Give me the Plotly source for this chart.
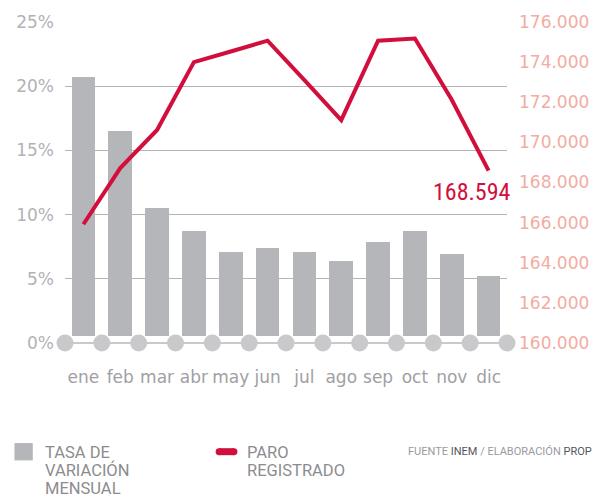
import plotly.graph_objects as go

# ---------------- data ----------------
meses = ["ene", "feb", "mar", "abr", "may", "jun", "jul", "ago", "sep", "oct", "nov", "dic"]
tasa_variacion = [20.7, 16.5, 10.5, 8.75, 7.1, 7.4, 7.1, 6.4, 7.9, 8.75, 6.9, 5.25]
paro_registrado = [165920, 168720, 170620, 174000, 174530, 175070, 173100, 171110, 175070, 175180, 172120, 168594]
tasa_ticks = [0, 5, 10, 15, 20, 25]
paro_ticks = [160000, 162000, 164000, 166000, 168000, 170000, 172000, 174000, 176000]

# ---------------- styling ----------------
W, H = 601, 497
ML, MR, MT, MB = 65, 90, 19, 154
PW, PH = W - ML - MR, H - MT - MB
BAR_COLOR = "#b5b6ba"
LINE_COLOR = "#d20f3c"
DOT_COLOR = "#c9c9cb"
GRID_COLOR = "#b4b4b4"
LEFT_TICK_COLOR = "#b2b2b6"
RIGHT_TICK_COLOR = "#f2aca2"
MONTH_COLOR = "#a0a0a4"
LEGEND_COLOR = "#8c8c90"
BAR_GAP = 0.55  # small gap between bars and the base line


def px(x):
    return (x - ML) / PW


def py(y):
    return (MT + PH - y) / PH


def fmt_es(v):
    return f"{v:,.0f}".replace(",", ".")


idx = list(range(len(meses)))

fig = go.Figure()

# bars (left axis)
fig.add_trace(go.Bar(
    x=idx, y=[v - BAR_GAP for v in tasa_variacion], base=BAR_GAP,
    width=0.64, marker=dict(color=BAR_COLOR, line=dict(width=0)),
    yaxis="y", showlegend=False, hoverinfo="skip",
))

# dots on the base line at category boundaries
fig.add_trace(go.Scatter(
    x=[i - 0.5 for i in range(len(meses) + 1)], y=[0] * (len(meses) + 1),
    mode="markers", marker=dict(size=17, color=DOT_COLOR, line=dict(width=0)),
    cliponaxis=False, yaxis="y", showlegend=False, hoverinfo="skip",
))

# line (right axis)
fig.add_trace(go.Scatter(
    x=idx, y=paro_registrado, mode="lines",
    line=dict(color=LINE_COLOR, width=4), yaxis="y2",
    showlegend=False, hoverinfo="skip", cliponaxis=False,
))

tick_font = dict(family="DejaVu Sans", size=17)

fig.update_layout(
    width=W, height=H, autosize=False,
    margin=dict(l=ML, r=MR, t=MT, b=MB, pad=0),
    paper_bgcolor="white", plot_bgcolor="white",
    separators=",.",
    bargap=0,
    xaxis=dict(
        range=[-0.5, len(meses) - 0.5], tickmode="array", tickvals=idx, ticktext=meses,
        showgrid=False, zeroline=False, showline=False, ticks="",
        tickfont=dict(tick_font, color=MONTH_COLOR), ticklabelstandoff=22,
    ),
    yaxis=dict(
        range=[0, 25], tickmode="array", tickvals=tasa_ticks,
        ticktext=[f"{t}%" for t in tasa_ticks],
        showgrid=True, gridcolor=GRID_COLOR, gridwidth=1,
        zeroline=True, zerolinecolor=DOT_COLOR, zerolinewidth=2,
        showline=False, ticks="", ticklabelstandoff=10,
        tickfont=dict(tick_font, color=LEFT_TICK_COLOR),
    ),
    yaxis2=dict(
        range=[paro_ticks[0], paro_ticks[-1]], overlaying="y", side="right",
        tickmode="array", tickvals=paro_ticks, ticktext=[fmt_es(t) for t in paro_ticks],
        showgrid=False, zeroline=False, showline=False, ticks="", ticklabelstandoff=11,
        tickfont=dict(tick_font, color=RIGHT_TICK_COLOR),
    ),
)

# last-value annotation
fig.add_annotation(
    x=idx[-1], y=paro_registrado[-1], xref="x", yref="y2",
    text=fmt_es(paro_registrado[-1]), showarrow=False,
    xanchor="right", yanchor="middle", xshift=24, yshift=-21,
    font=dict(family="Liberation Sans Narrow, Roboto Condensed, Arial Narrow", size=24, color=LINE_COLOR),
)

# ---------------- legend (manual) ----------------
fig.add_shape(type="rect", xref="paper", yref="paper",
              x0=px(14), x1=px(32.5), y0=py(461.5), y1=py(444),
              fillcolor=BAR_COLOR, line=dict(width=0), layer="above")

pill_y = 452.7
fig.add_shape(type="line", xref="paper", yref="paper",
              x0=px(220.5), x1=px(235.5), y0=py(pill_y), y1=py(pill_y),
              line=dict(color=LINE_COLOR, width=7), layer="above")
for cx in (220.5, 235.5):
    fig.add_shape(type="circle", xref="paper", yref="paper",
                  x0=px(cx - 3.5), x1=px(cx + 3.5), y0=py(pill_y + 3.5), y1=py(pill_y - 3.5),
                  fillcolor=LINE_COLOR, line=dict(width=0), layer="above")

legend_font = dict(family="Roboto", size=16.5, color=LEGEND_COLOR)
for i, t in enumerate(["TASA DE", "VARIACIÓN", "MENSUAL"]):
    fig.add_annotation(x=px(43), y=py(453.5 + 18 * i), xref="paper", yref="paper",
                       text=t, showarrow=False, xanchor="left", yanchor="middle",
                       font=legend_font)
for i, t in enumerate(["PARO", "REGISTRADO"]):
    fig.add_annotation(x=px(247), y=py(453.5 + 18 * i), xref="paper", yref="paper",
                       text=t, showarrow=False, xanchor="left", yanchor="middle",
                       font=legend_font)

fig.add_annotation(
    x=px(599), y=py(453), xref="paper", yref="paper", showarrow=False,
    xanchor="right", yanchor="middle",
    text=('FUENTE <span style="color:#55555a">INEM</span> / ELABORACIÓN '
          '<span style="color:#55555a">PROP</span>'),
    font=dict(family="Roboto", size=11, color="#9a9a9e"),
)

fig.write_html("out.html", include_plotlyjs=True, config={"displayModeBar": False},
               post_script="document.body.style.margin='0';")
